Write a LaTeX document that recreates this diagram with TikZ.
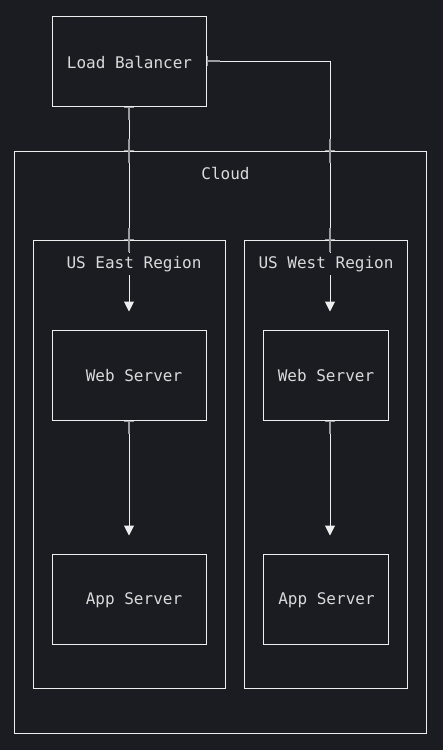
\documentclass[tikz,border=0pt]{standalone}
\usepackage{fontspec}
\setmonofont{DejaVu Sans Mono}
\usetikzlibrary{arrows.meta,calc}

\definecolor{bgdark}{HTML}{1A1C22}
\definecolor{linewhite}{HTML}{EEEEEE}
\definecolor{textgray}{HTML}{DADADA}
\definecolor{markgray}{HTML}{9A9CA0}

\tikzset{
  box/.style={draw=linewhite, inner sep=0pt, minimum width=#1, minimum height=90pt},
  box/.default=154pt,
  group/.style={draw=linewhite, inner sep=0pt},
  boxtext/.style={text=textgray, font=\ttfamily\fontsize{16}{19}\selectfont},
  grouplabel/.style={boxtext, fill=bgdark, inner xsep=3pt, inner ysep=3.5pt},
  link/.style={draw=linewhite, shorten >=18pt,
    {Bar[width=10pt,line width=1.5pt,color=markgray]Rectangle[length=12pt,width=1.2pt,color=markgray]}-{Bar[width=0pt,sep=5pt]Triangle[length=10pt,width=10pt]}},
  crossmark/.style={draw=markgray, line width=1.2pt}
}

\begin{document}
\begin{tikzpicture}[x=1pt, y=-1pt, line width=1pt]
\fill[bgdark] (0,0) rectangle (443,750);
\useasboundingbox (0,0) rectangle (443,750);

% containers
\node[group, minimum width=412pt, minimum height=582pt] (cloud) at (220,442) {};
\node[group, minimum width=192pt, minimum height=448pt] (east) at (129,464) {};
\node[group, minimum width=163pt, minimum height=448pt] (west) at (325.5,464) {};

% servers
\node[box, label={[boxtext, xshift=0.5pt, yshift=-1pt]center:Load Balancer}] (lb) at (129,61) {};
\node[box, label={[boxtext, xshift=5pt, yshift=-1pt]center:Web Server}] (eweb) at (129,375) {};
\node[box, label={[boxtext, xshift=5pt, yshift=-1pt]center:App Server}] (eapp) at (129,599) {};
\node[box=125pt, label={[boxtext, xshift=0.5pt, yshift=-1pt]center:Web Server}] (wweb) at (325.5,375) {};
\node[box=125pt, label={[boxtext, xshift=1pt, yshift=-1pt]center:App Server}] (wapp) at (325.5,599) {};

\coordinate (eastx) at (lb.south);
\coordinate (westx) at ([xshift=4.5pt]wweb.north);

% connections
\draw[link] (lb.south) -- (eweb.north);
\draw[link] (lb.east) -| (westx);
\draw[link] (eweb.south) -- (eapp.north);
\draw[link] ([xshift=4.5pt]wweb.south) -- ([xshift=4.5pt]wapp.north);

% group titles (cut the lines)
\node[grouplabel] (cloudname) at ([xshift=5.5pt, yshift=-23pt]cloud.north) {Cloud};
\node[grouplabel] (eastname) at ([xshift=5pt, yshift=-24.5pt]east.north) {US East Region};
\node[grouplabel] (westname) at ([xshift=0.5pt, yshift=-24.5pt]west.north) {US West Region};

% marks where lines cross borders
\foreach \l in {eastx, westx}
  \foreach \g in {cloud, east}
    \draw[crossmark] ($(\l |- \g.north)+(0,-12)$) -- ++(0,24)
                     ($(\l |- \g.north)+(-5,0)$) -- ++(10,0);
\end{tikzpicture}
\end{document}
